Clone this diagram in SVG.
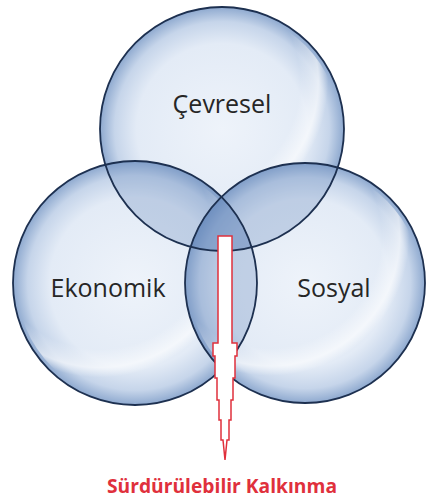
<svg xmlns="http://www.w3.org/2000/svg" width="427" height="502" viewBox="0 0 427 502">
<defs>
<radialGradient id="bub" cx="0.5" cy="0.5" r="0.5">
<stop offset="0" stop-color="#eef3fa"/>
<stop offset="0.7" stop-color="#e3ebf6"/>
<stop offset="0.88" stop-color="#c6d5ea"/>
<stop offset="1" stop-color="#8ea9cf"/>
</radialGradient>
<radialGradient id="hl" cx="0.35" cy="0.3" r="0.6">
<stop offset="0.8" stop-color="#ffffff" stop-opacity="0"/>
<stop offset="0.93" stop-color="#ffffff" stop-opacity="0.6"/>
<stop offset="1" stop-color="#ffffff" stop-opacity="0"/>
</radialGradient>
<clipPath id="cA"><circle cx="222" cy="129" r="122"/></clipPath>
<clipPath id="cB"><circle cx="135" cy="283" r="122"/></clipPath>
<clipPath id="cC"><circle cx="305" cy="283" r="120"/></clipPath>
</defs>
<style>
.f{fill:url(#bub);stroke:none}
.o{fill:#5f82b8;fill-opacity:0.28;stroke:none}
.s{fill:none;stroke:#1d3050;stroke-width:1.8}
.h{fill:url(#hl);stroke:none}
.t{font-family:"Open Sans","Liberation Sans",sans-serif;font-size:25px;fill:#262626;text-anchor:middle}
.r{font-family:"Open Sans","Liberation Sans",sans-serif;font-size:19px;font-weight:bold;fill:#e0303c;text-anchor:middle}
.a{fill:#ffffff;stroke:#e0303c;stroke-width:1.5;stroke-linejoin:miter}
</style>
<rect width="427" height="502" fill="#ffffff"/>
<g id="cevresel">
<circle class="f" cx="222" cy="129" r="122"/>
<circle class="h" cx="222" cy="129" r="118"/>
</g>
<g id="ekonomik">
<circle class="f" cx="135" cy="283" r="122"/>
<circle class="h" cx="135" cy="283" r="118"/>
</g>
<g id="sosyal">
<circle class="f" cx="305" cy="283" r="120"/>
<circle class="h" cx="305" cy="283" r="116"/>
</g>
<g id="overlaps">
<circle class="o" cx="135" cy="283" r="122" clip-path="url(#cA)"/>
<circle class="o" cx="305" cy="283" r="120" clip-path="url(#cA)"/>
<circle class="o" cx="305" cy="283" r="120" clip-path="url(#cB)"/>
</g>
<g id="outlines">
<circle class="s" cx="222" cy="129" r="122"/>
<circle class="s" cx="135" cy="283" r="122"/>
<circle class="s" cx="305" cy="283" r="120"/>
</g>
<g id="labels">
<text class="t" x="222" y="113">Çevresel</text>
<text class="t" x="108" y="297">Ekonomik</text>
<text class="t" x="334" y="297">Sosyal</text>
</g>
<g id="connectors">
<path class="a" d="M218,236 H232 V343 H237 V356 H235 V378 H233 V400 H231 V420 H229 V440 H227 L225,460 L223,440 H221 V420 H219 V400 H217 V378 H215 V356 H213 V343 H218 Z"/>
</g>
<g id="label">
<text class="r" x="222" y="493" textLength="230" lengthAdjust="spacingAndGlyphs">Sürdürülebilir Kalkınma</text>
</g>
</svg>
